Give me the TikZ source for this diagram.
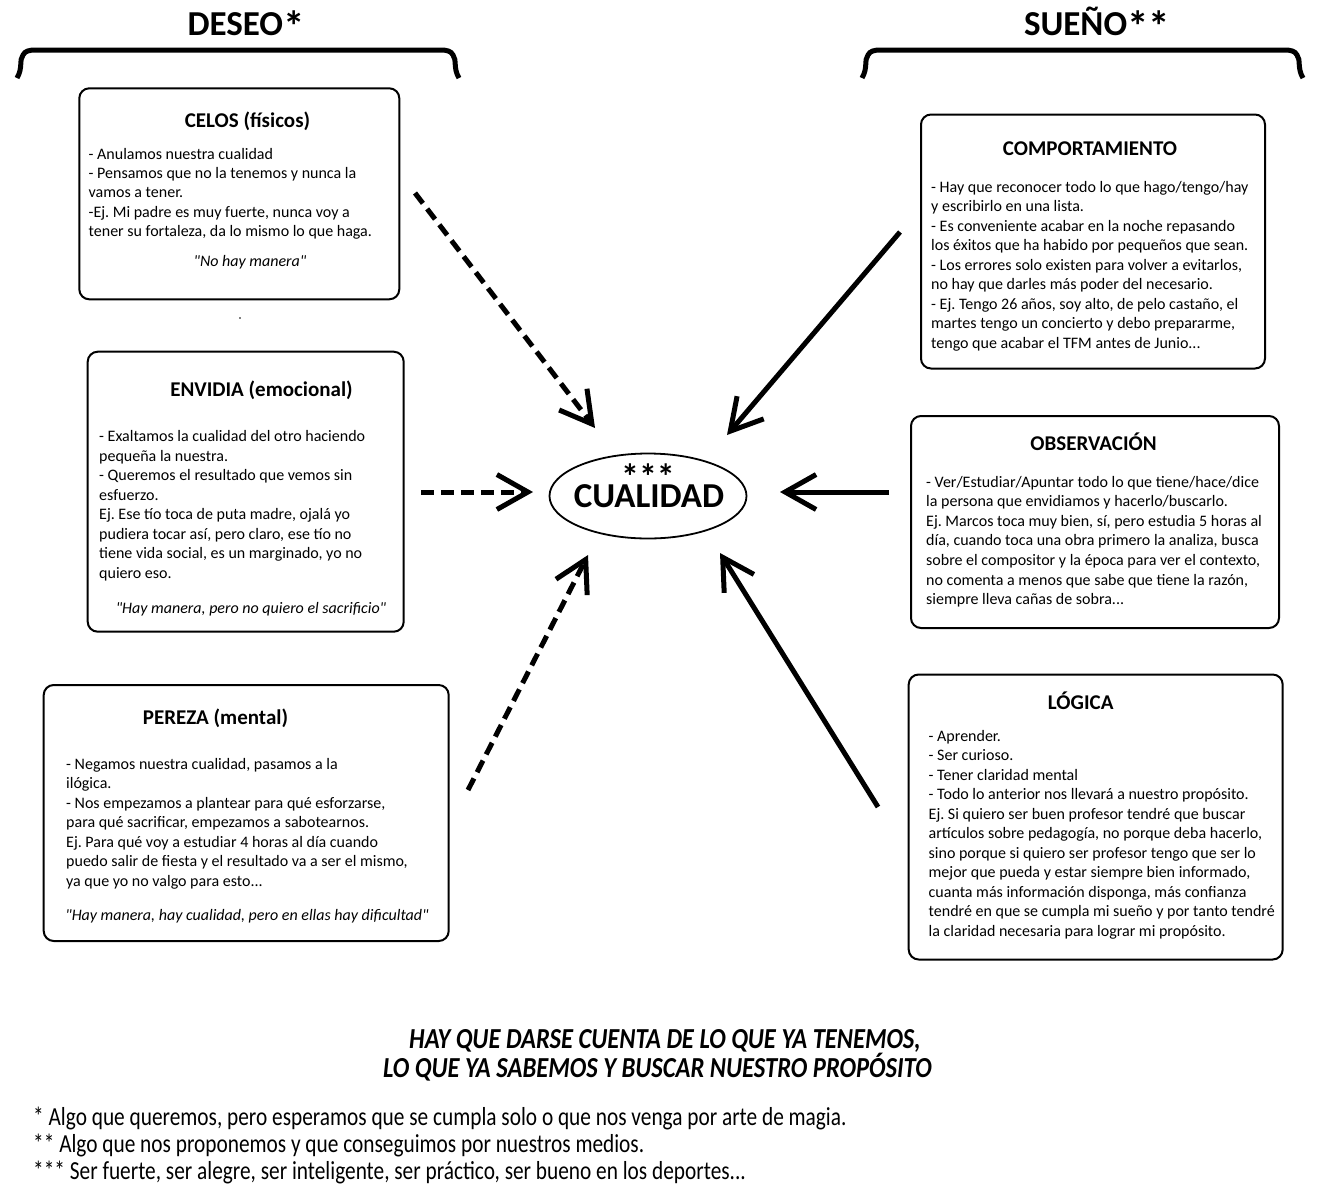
\documentclass[tikz,border=0pt]{standalone}
\usepackage{graphicx}
\usepackage{fontspec}
\setmainfont{Carlito}[Ligatures=TeXOff]
\usetikzlibrary{arrows.meta,shapes.geometric}
\newcommand{\bodyfnt}{\fontsize{16}{19.5}\selectfont}
\newcommand{\ttlfnt}{\bfseries\fontsize{21}{24}\selectfont}
\newcommand{\tdots}{...}
\newcommand{\bigast}{\raisebox{-6pt}{\fontsize{43}{43}\selectfont*}}
\frenchspacing
\begin{document}
\begin{tikzpicture}[x=1pt,y=-1pt,
  panel/.style={draw, line width=2pt, rounded corners=10pt, inner sep=0pt, anchor=north west},
  ttl/.style={anchor=base, inner sep=0pt, font=\ttlfnt},
  bl/.style={anchor=base west, inner sep=0pt, font=\bodyfnt},
  qt/.style={anchor=base, inner sep=0pt, font=\bodyfnt\itshape},
  heading/.style={anchor=base, inner sep=0pt, font=\bfseries\fontsize{35}{38}\selectfont},
  brace/.style={line width=5pt},
  bigarrow/.style={line width=5pt, -{Straight Barb[length=31pt,width=35pt]}},
  dashedarrow/.style={bigarrow, dash pattern=on 13pt off 7pt},
  note/.style={anchor=base west, inner sep=0pt, font=\fontsize{26}{28}\selectfont},
  msg/.style={anchor=base, inner sep=0pt, font=\bfseries\itshape\fontsize{29}{32}\selectfont},
]
\useasboundingbox (0,0) rectangle (1317,1200);
\fill[white] (0,0) rectangle (1317,1200);

% headings and braces
\node[heading] (deseo) at (246,35) {DESEO\bigast};
\node[heading] (sueno) at (1097,35) {SUEÑO\bigast\bigast};
\draw[brace] (17,78) .. controls (23,68) and (19,60) .. (23,55) .. controls (25,51) and (29,50) .. (36,50) -- (440,50) .. controls (447,50) and (451,51) .. (453,55) .. controls (457,60) and (453,68) .. (459,78);
\draw[brace] (862,78) .. controls (868,68) and (864,60) .. (868,55) .. controls (870,51) and (874,50) .. (881,50) -- (1284,50) .. controls (1291,50) and (1295,51) .. (1297,55) .. controls (1301,60) and (1297,68) .. (1303,78);

% CELOS
\node[panel, minimum width=320pt, minimum height=211pt] (celos) at (78.3,87.3) {};
\node[ttl] (celosT) at (247.5,127.5) {CELOS (físicos)};
\foreach \t [count=\i from 0] in {{- Anulamos nuestra cualidad},{- Pensamos que no la tenemos y nunca la},{vamos a tener.},{-Ej. Mi padre es muy fuerte, nunca voy a},{tener su fortaleza, da lo mismo lo que haga.}}
  \node[bl] (celosL\i) at (88.5,159+19.4*\i) {\t};
\node[qt] (celosQ) at (250,266) {"No hay manera"};
\fill (240,318) circle (0.8pt);

% ENVIDIA
\node[panel, minimum width=316pt, minimum height=280pt] (envidia) at (86.7,350.7) {};
\node[ttl] (envidiaT) at (261.5,396) {ENVIDIA (emocional)};
\foreach \t [count=\i from 0] in {{- Exaltamos la cualidad del otro haciendo},{pequeña la nuestra.},{- Queremos el resultado que vemos sin},{esfuerzo.},{Ej. Ese tío toca de puta madre, ojalá yo},{pudiera tocar así, pero claro, ese tío no},{tiene vida social, es un marginado, yo no},{quiero eso.}}
  \node[bl] (envidiaL\i) at (99,441.5+19.5*\i) {\t};
\node[qt] (envidiaQ) at (251,613) {"Hay manera, pero no quiero el sacrificio"};

% PEREZA
\node[panel, minimum width=405pt, minimum height=256pt] (pereza) at (42.7,684) {};
\node[ttl] (perezaT) at (215.5,724) {PEREZA (mental)};
\foreach \t [count=\i from 0] in {{- Negamos nuestra cualidad, pasamos a la},{ilógica.},{- Nos empezamos a plantear para qué esforzarse,},{para qué sacrificar, empezamos a sabotearnos.},{Ej. Para qué voy a estudiar 4 horas al día cuando},{puedo salir de fiesta y el resultado va a ser el mismo,},{ya que yo no valgo para esto\tdots}}
  \node[bl] (perezaL\i) at (66,769+19.5*\i) {\t};
\node[qt] (perezaQ) at (247,920) {"Hay manera, hay cualidad, pero en ellas hay dificultad"};

% COMPORTAMIENTO
\node[panel, minimum width=344pt, minimum height=254pt] (comp) at (920,113.5) {};
\node[ttl] (compT) at (1090,155) {COMPORTAMIENTO};
\foreach \t [count=\i from 0] in {{- Hay que reconocer todo lo que hago/tengo/hay},{y escribirlo en una lista.},{- Es conveniente acabar en la noche repasando},{los éxitos que ha habido por pequeños que sean.},{- Los errores solo existen para volver a evitarlos,},{no hay que darles más poder del necesario.},{- Ej. Tengo 26 años, soy alto, de pelo castaño, el},{martes tengo un concierto y debo prepararme,},{tengo que acabar el TFM antes de Junio\tdots}}
  \node[bl] (compL\i) at (931,192+19.5*\i) {\t};

% OBSERVACION
\node[panel, minimum width=368pt, minimum height=212pt] (obs) at (910,415) {};
\node[ttl] (obsT) at (1093.5,450.5) {OBSERVACIÓN};
\foreach \t [count=\i from 0] in {{- Ver/Estudiar/Apuntar todo lo que tiene/hace/dice},{la persona que envidiamos y hacerlo/buscarlo.},{Ej. Marcos toca muy bien, sí, pero estudia 5 horas al},{día, cuando toca una obra primero la analiza, busca},{sobre el compositor y la época para ver el contexto,},{no comenta a menos que sabe que tiene la razón,},{siempre lleva cañas de sobra\tdots}}
  \node[bl] (obsL\i) at (926,487+19.6*\i) {\t};

% LOGICA
\node[panel, minimum width=374pt, minimum height=285pt] (logica) at (907.7,673.5) {};
\node[ttl] (logicaT) at (1080.7,709.5) {LÓGICA};
\foreach \t [count=\i from 0] in {{- Aprender.},{- Ser curioso.},{- Tener claridad mental},{- Todo lo anterior nos llevará a nuestro propósito.},{Ej. Si quiero ser buen profesor tendré que buscar},{artículos sobre pedagogía, no porque deba hacerlo,},{sino porque si quiero ser profesor tengo que ser lo},{mejor que pueda y estar siempre bien informado,},{cuanta más información disponga, más confianza},{tendré en que se cumpla mi sueño y por tanto tendré},{la claridad necesaria para lograr mi propósito.}}
  \node[bl] (logicaL\i) at (928.5,741+19.5*\i) {\t};

% center
\node[draw, ellipse, line width=1.8pt, minimum width=197pt, minimum height=85pt, inner sep=0pt] (cual) at (648,496) {};
\node[anchor=base, inner sep=0pt, font=\bfseries\fontsize{36}{36}\selectfont] (stars) at (648,489) {***};
\node[anchor=base, inner sep=0pt, font=\bfseries\fontsize{35}{38}\selectfont] (cualT) at (649,507) {CUALIDAD};

% arrow endpoints
\coordinate (dAs) at (415,193); \coordinate (dAt) at (595,428);
\coordinate (dBs) at (421,492); \coordinate (dBt) at (533,492);
\coordinate (dCs) at (468,790); \coordinate (dCt) at (588,555);
\coordinate (sAs) at (900,232); \coordinate (sAt) at (727,435);
\coordinate (sBs) at (889,492); \coordinate (sBt) at (780,492);
\coordinate (sCs) at (878,807); \coordinate (sCt) at (720,553);
\draw[dashedarrow] (dAs) -- (dAt);
\draw[dashedarrow] (dBs) -- (dBt);
\draw[dashedarrow] (dCs) -- (dCt);
\draw[bigarrow] (sAs) -- (sAt);
\draw[bigarrow] (sBs) -- (sBt);
\draw[bigarrow] (sCs) -- (sCt);

% bottom
\node[msg] (msg1) at (665,1048) {\scalebox{0.848}[1]{HAY QUE DARSE CUENTA DE LO QUE YA TENEMOS,}};
\node[msg] (msg2) at (657.5,1077) {\scalebox{0.848}[1]{LO QUE YA SABEMOS Y BUSCAR NUESTRO PROPÓSITO}};
\node[note] (fn1) at (33,1125) {\scalebox{0.82}[1]{* Algo que queremos, pero esperamos que se cumpla solo o que nos venga por arte de magia.}};
\node[note] (fn2) at (33,1152) {\scalebox{0.82}[1]{** Algo que nos proponemos y que conseguimos por nuestros medios.}};
\node[note] (fn3) at (33,1179) {\scalebox{0.82}[1]{*** Ser fuerte, ser alegre, ser inteligente, ser práctico, ser bueno en los deportes\tdots}};
\end{tikzpicture}
\end{document}
